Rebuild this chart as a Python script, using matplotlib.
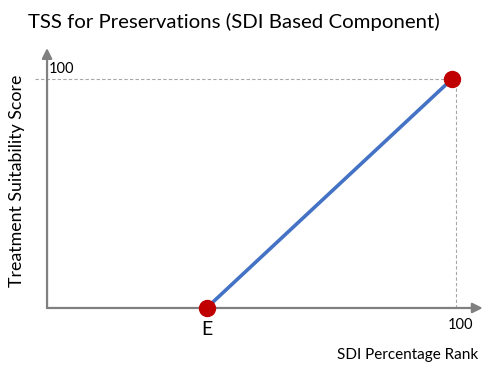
import matplotlib.pyplot as plt

# schematic values
rank = [39, 99]          # SDI percentage rank (E, max)
score = [0, 100]         # treatment suitability score
top_tick = 100
axis_max_x = 106.5
axis_max_y = 113.5

title = "TSS for Preservations (SDI Based Component)"
xlabel = "SDI Percentage Rank"
ylabel = "Treatment Suitability Score"

plt.rcParams["font.family"] = ["Lato", "DejaVu Sans"]

fig = plt.figure(figsize=(4.88, 3.76), dpi=100)
ax = fig.add_axes([0, 0, 1, 1])
ax.set_xlim(-11.5, 107.8)
ax.set_ylim(-29.7, 134.5)
ax.axis("off")

axis_col = "#808080"
# axes with arrow heads
ax.annotate("", xy=(axis_max_x, 0), xytext=(0, 0),
            arrowprops=dict(arrowstyle="-|>,head_length=0.6,head_width=0.3",
                            color=axis_col, lw=1.6, shrinkA=0, shrinkB=0))
ax.annotate("", xy=(0, axis_max_y), xytext=(0, 0),
            arrowprops=dict(arrowstyle="-|>,head_length=0.6,head_width=0.3",
                            color=axis_col, lw=1.6, shrinkA=0, shrinkB=0))

# dashed guides
ax.plot([-3, rank[1]], [top_tick, top_tick], ls=(0, (3, 2)), color="#a6a6a6", lw=0.8)
ax.plot([top_tick, top_tick], [0, score[1]], ls=(0, (3, 2)), color="#a6a6a6", lw=0.8)

# line and points
ax.plot(rank, score, color="#4472C4", lw=2.6, solid_capstyle="butt", zorder=3)
ax.plot(rank, score, "o", color="#C00000", ms=11.5, mec="#C00000", zorder=4)

# text
fig.text(28 / 488, 1 - 22 / 376, title, fontsize=14.7, va="center", ha="left")
ax.text(0.5, top_tick + 1.5, "100", fontsize=10.5, va="bottom", ha="left")
ax.text(top_tick + 1, -4.5, "100", fontsize=10.5, va="top", ha="center")
ax.text(rank[0], -5.5, "E", fontsize=14, va="top", ha="center")
fig.text(478 / 488, 1 - 355 / 376, xlabel, fontsize=11, va="center", ha="right")
fig.text(17 / 488, 1 - 181 / 376, ylabel, fontsize=12.8, va="center", ha="center",
         rotation=90)

fig.savefig("out.png", dpi=100)
